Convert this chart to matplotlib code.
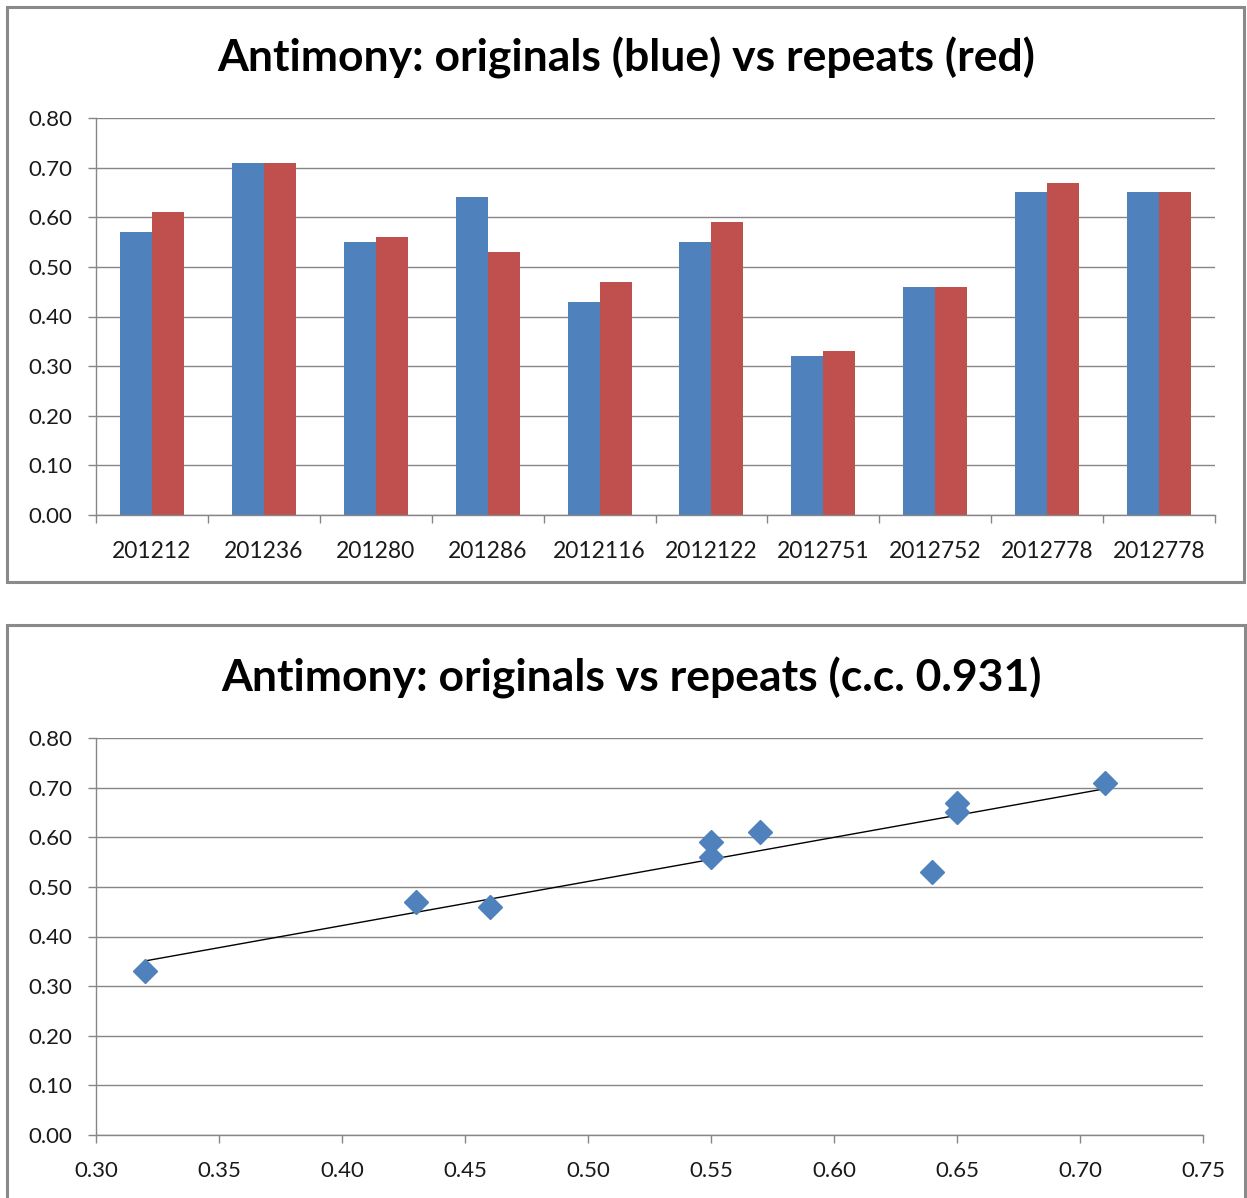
import numpy as np
import matplotlib
matplotlib.use("Agg")
import matplotlib.pyplot as plt
from matplotlib.patches import Rectangle
from matplotlib.ticker import FixedLocator, MultipleLocator, FormatStrFormatter

plt.rcParams['font.family'] = ['Lato', 'DejaVu Sans']

# sample ids and antimony values
samples = ['201212', '201236', '201280', '201286', '2012116', '2012122',
           '2012751', '2012752', '2012778', '2012778']
originals = [0.57, 0.71, 0.55, 0.64, 0.43, 0.55, 0.32, 0.46, 0.65, 0.65]
repeats = [0.61, 0.71, 0.56, 0.53, 0.47, 0.59, 0.33, 0.46, 0.67, 0.65]
cc_label = '0.931'

BLUE = '#4F81BD'
RED = '#C0504D'
GRID = '#868686'
W, H = 1247, 1198

fig = plt.figure(figsize=(W / 100, H / 100), dpi=100)


def px_axes(left, top, right, bottom):
    return fig.add_axes([left / W, 1 - bottom / H, (right - left) / W, (bottom - top) / H])


def px_border(left, top, right, bottom):
    fig.patches.append(Rectangle((left / W, 1 - bottom / H), (right - left) / W,
                                 (bottom - top) / H, transform=fig.transFigure,
                                 fill=False, edgecolor='#8a8a8a', linewidth=2.2))


def style_axes(ax):
    for s in ['top', 'right']:
        ax.spines[s].set_visible(False)
    for s in ['left', 'bottom']:
        ax.spines[s].set_color(GRID)
        ax.spines[s].set_linewidth(1.0)
    ax.set_ylim(0, 0.8)
    ax.yaxis.set_major_locator(MultipleLocator(0.1))
    ax.yaxis.set_major_formatter(FormatStrFormatter('%.2f'))
    ax.grid(axis='y', color=GRID, linewidth=1.0)
    ax.set_axisbelow(True)
    ax.tick_params(axis='y', length=6, width=1, color=GRID, pad=11,
                   labelsize=16, labelcolor='#1a1a1a')


px_border(7, 7, 1244, 582)
px_border(7, 625, 1245, 1210)

# bar chart
ax1 = px_axes(96, 118, 1215, 515)
style_axes(ax1)
x = np.arange(len(samples))
bw = 1 / 3.5
ax1.bar(x - bw / 2, originals, width=bw, color=BLUE, zorder=2)
ax1.bar(x + bw / 2, repeats, width=bw, color=RED, zorder=2)
ax1.set_xlim(-0.5, len(samples) - 0.5)
ax1.set_xticks(x)
ax1.set_xticklabels(samples)
ax1.xaxis.set_minor_locator(FixedLocator(np.arange(-0.5, len(samples), 1.0)))
ax1.tick_params(axis='x', which='major', length=0, pad=19, labelsize=16.5,
                labelcolor='#1a1a1a')
ax1.tick_params(axis='x', which='minor', length=6, width=1, color=GRID)
fig.text(626 / W, 1 - 58 / H, 'Antimony: originals (blue) vs repeats (red)',
         ha='center', va='center', fontsize=32, fontweight='bold')

# scatter with linear trend line
ax2 = px_axes(96, 738, 1203, 1135)
style_axes(ax2)
ax2.plot(originals, repeats, linestyle='none', marker='D', markersize=12.5,
         color=BLUE, zorder=3)
k, b = np.polyfit(originals, repeats, 1)
xs = np.array([min(originals), max(originals)])
ax2.plot(xs, k * xs + b, color='black', linewidth=1.0, zorder=2)
ax2.set_xlim(0.3, 0.75)
ax2.xaxis.set_major_locator(MultipleLocator(0.05))
ax2.xaxis.set_major_formatter(FormatStrFormatter('%.2f'))
ax2.tick_params(axis='x', length=6, width=1, color=GRID, pad=13,
                labelsize=16, labelcolor='#1a1a1a')
fig.text(631 / W, 1 - 678 / H, 'Antimony: originals vs repeats (c.c. ' + cc_label + ')',
         ha='center', va='center', fontsize=32, fontweight='bold')

fig.savefig('out.png', dpi=100)
